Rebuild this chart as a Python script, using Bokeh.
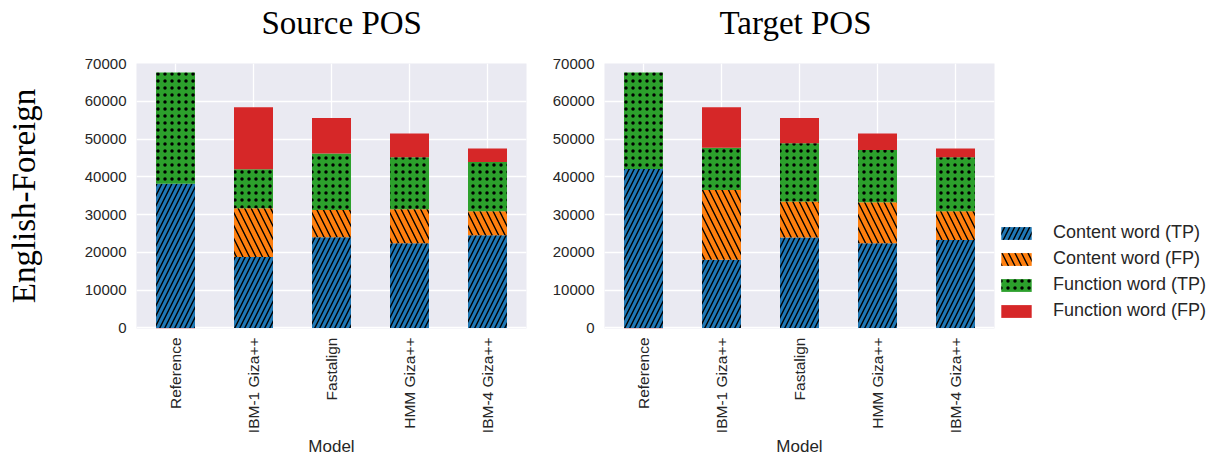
import math
from bokeh.plotting import figure
from bokeh.layouts import row
from bokeh.models import (ColumnDataSource, FactorRange, Range1d, FixedTicker,
                          NumeralTickFormatter, Legend, LegendItem, Title)
from bokeh.embed import file_html
from bokeh.resources import INLINE

models = ["Reference", "IBM-1 Giza++", "Fastalign", "HMM Giza++", "IBM-4 Giza++"]
series = ["Content word (TP)", "Content word (FP)", "Function word (TP)", "Function word (FP)"]
colors = ["#1f77b4", "#ff7f0e", "#2ca02c", "#d62728"]
hatches = ["right_diagonal_line", "left_diagonal_line", "dot", " "]

# Source POS
src_content_tp = [38200, 18750, 24000, 22400, 24550]
src_content_fp = [0, 12950, 7250, 9000, 6350]
src_function_tp = [29400, 10300, 14950, 13800, 13000]
src_function_fp = [-150, 16400, 9400, 6300, 3600]

# Target POS
tgt_content_tp = [42100, 18050, 23950, 22400, 23300]
tgt_content_fp = [0, 18450, 9550, 10900, 7600]
tgt_function_tp = [25500, 11200, 15400, 13800, 14300]
tgt_function_fp = [-150, 10700, 6700, 4400, 2300]

y_ticks = [0, 10000, 20000, 30000, 40000, 50000, 60000, 70000]

TICK_FONT = "Liberation Sans"
SERIF = "Liberation Serif"
BG = "#eaeaf2"
TXT = "#262626"


def make_panel(title, stacks, bl, br, title_offset, ylabel, with_legend):
    p = figure(x_range=FactorRange(*models, range_padding=0),
               y_range=Range1d(-150, 70000),
               frame_width=390, frame_height=265,
               min_border_left=bl, min_border_right=br,
               min_border_top=63, min_border_bottom=124,
               output_backend="svg", toolbar_location=None)
    p.background_fill_color = BG
    p.border_fill_color = "white"
    p.outline_line_color = None
    p.xgrid.grid_line_color = "white"
    p.ygrid.grid_line_color = "white"
    p.xgrid.grid_line_width = 1.3
    p.ygrid.grid_line_width = 1.3
    for ax in (p.xaxis[0], p.yaxis[0]):
        ax.axis_line_color = None
        ax.major_tick_line_color = None
        ax.minor_tick_line_color = None
        ax.major_tick_out = 0
        ax.major_tick_in = 0
        ax.major_label_text_font = TICK_FONT
        ax.major_label_text_font_size = "15px"
        ax.major_label_text_color = TXT
    p.yaxis.major_label_standoff = 10
    p.xaxis.major_label_standoff = 9
    p.xaxis.major_label_text_font_size = "15.5px"
    p.yaxis.ticker = FixedTicker(ticks=y_ticks)
    p.yaxis.formatter = NumeralTickFormatter(format="0")
    p.xaxis.major_label_orientation = math.pi / 2

    p.xaxis.axis_label = "Model"
    p.xaxis.axis_label_text_font = TICK_FONT
    p.xaxis.axis_label_text_font_style = "normal"
    p.xaxis.axis_label_text_font_size = "17px"
    p.xaxis.axis_label_text_color = TXT
    p.xaxis.axis_label_standoff = 1

    if ylabel:
        p.yaxis.axis_label = ylabel
        p.yaxis.axis_label_text_font = SERIF
        p.yaxis.axis_label_text_font_style = "normal"
        p.yaxis.axis_label_text_font_size = "33px"
        p.yaxis.axis_label_text_color = "black"
        p.yaxis.axis_label_standoff = 40

    # spacer between frame and title (closest to the frame)
    p.add_layout(Title(text=" ", text_font_size="1px", standoff=20), "above")

    p.title.text = title
    p.title.text_font = SERIF
    p.title.text_font_style = "normal"
    p.title.text_font_size = "33px"
    p.title.text_color = "black"
    p.title.align = "left"
    p.title.standoff = 0
    p.title.offset = title_offset

    pos_prior = [0.0] * len(models)
    neg_prior = [0.0] * len(models)
    renderers = []
    for k, vals in enumerate(stacks):
        bottoms, tops = [], []
        for i, v in enumerate(vals):
            if v >= 0:
                b = pos_prior[i]
                pos_prior[i] += v
            else:
                b = neg_prior[i]
                neg_prior[i] += v
            bottoms.append(b)
            tops.append(b + v)
        src = ColumnDataSource(dict(x=models, bottom=bottoms, top=tops))
        r = p.vbar(x="x", bottom="bottom", top="top", width=0.5, source=src,
                   fill_color=colors[k], line_color=None,
                   hatch_pattern=hatches[k], hatch_color="black",
                   hatch_scale=[10, 13, 7, 7][k],
                   hatch_weight=[1.4, 1.4, 2.1, 1][k])
        renderers.append(r)

    if with_legend:
        items = [LegendItem(label=series[k], renderers=[renderers[k]]) for k in range(4)]
        leg = Legend(items=items, location=(3, 7), padding=0, margin=0,
                     glyph_width=38, glyph_height=16, label_height=16,
                     spacing=5, label_standoff=18,
                     label_text_font=TICK_FONT, label_text_font_size="18px",
                     label_text_color=TXT,
                     background_fill_alpha=0, border_line_color=None)
        p.add_layout(leg, "right")
    return p


p1 = make_panel("Source POS", [src_content_tp, src_content_fp, src_function_tp, src_function_fp],
                136, 19, 125, "English-Foreign", False)
p2 = make_panel("Target POS", [tgt_content_tp, tgt_content_fp, tgt_function_tp, tgt_function_fp],
                59, 210, 115, None, True)

layout = row(p1, p2)
open("out.html", "w").write(file_html(layout, INLINE))
